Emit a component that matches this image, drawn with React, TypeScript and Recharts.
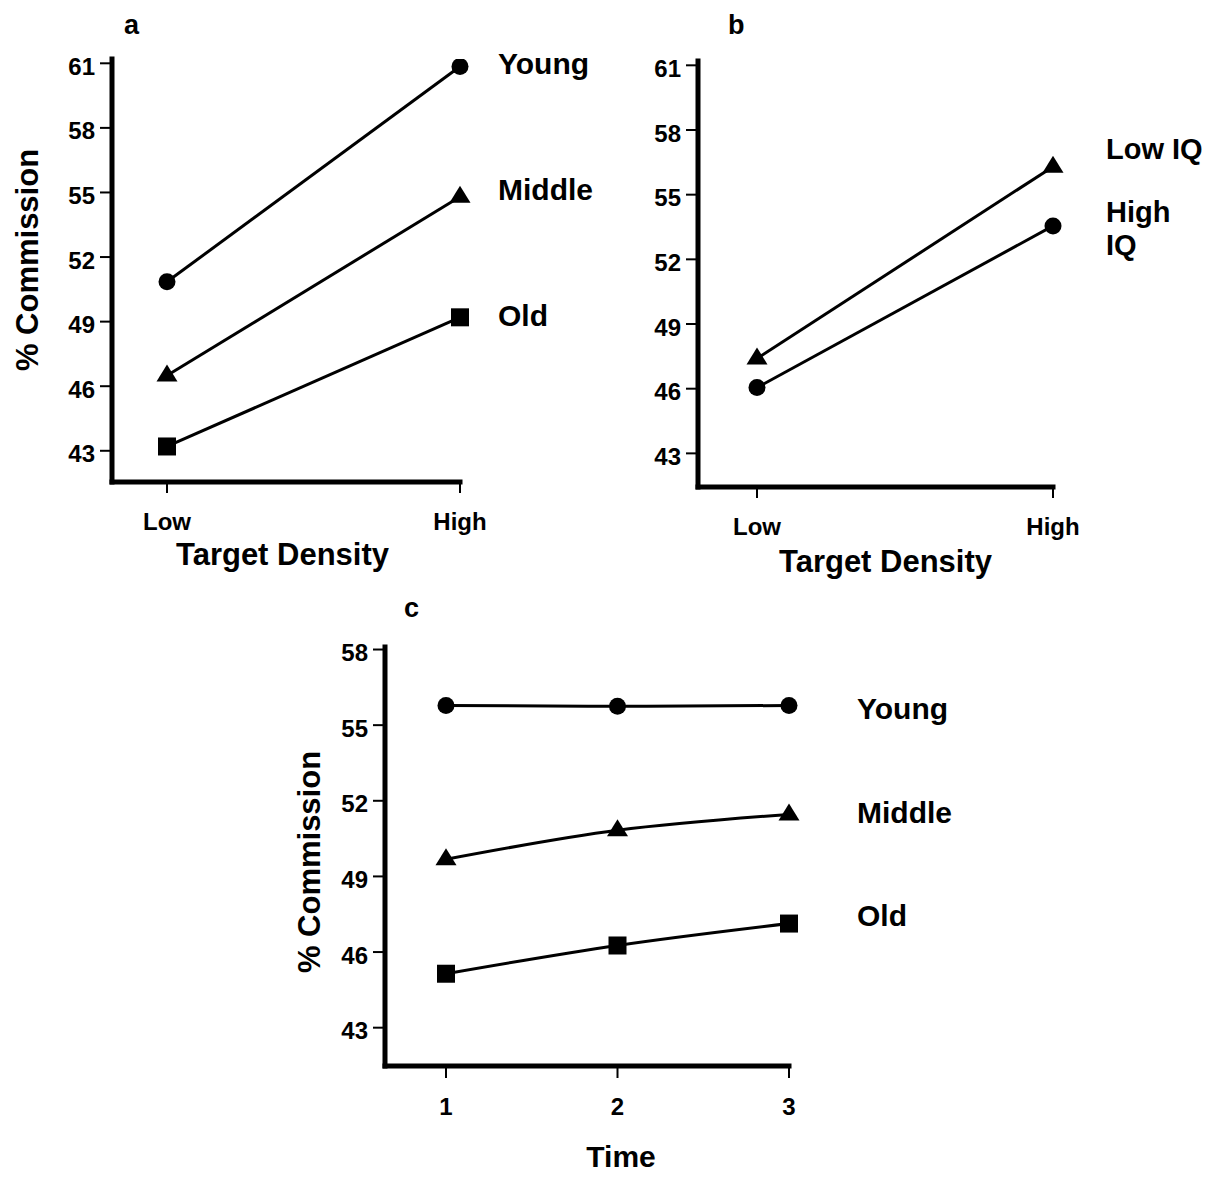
import React from "react"
import { LineChart, Line, XAxis, YAxis } from "recharts"

const FONT = '"Liberation Sans", Arial, Helvetica, sans-serif'

// panel a – age groups by target density
const densityLabels = ["Low", "High"]
const youngA = [50.85, 60.85]
const middleA = [46.5, 54.8]
const oldA = [43.2, 49.2]

// panel b – IQ groups by target density
const lowIQ = [47.4, 56.3]
const highIQ = [46.05, 53.55]

// panel c – age groups over time
const timeLabels = ["1", "2", "3"]
const youngC = [55.78, 55.75, 55.78]
const middleC = [49.68, 50.83, 51.46]
const oldC = [45.14, 46.26, 47.13]

const ticksAB = [43, 46, 49, 52, 55, 58, 61]
const ticksC = [43, 46, 49, 52, 55, 58]

const dataA = densityLabels.map((x, i) => ({ x, young: youngA[i], middle: middleA[i], old: oldA[i] }))
const dataB = densityLabels.map((x, i) => ({ x, lowIQ: lowIQ[i], highIQ: highIQ[i] }))
const dataC = timeLabels.map((x, i) => ({ x, young: youngC[i], middle: middleC[i], old: oldC[i] }))

type Shape = "circle" | "square" | "triangle"

function dot(shape: Shape) {
  // eslint-disable-next-line @typescript-eslint/no-explicit-any
  return (props: any) => {
    const { cx, cy, index } = props
    if (cx == null || cy == null) return <g key={`e-${shape}-${index}`} />
    if (shape === "circle") return <circle key={`c-${index}`} cx={cx} cy={cy} r={8.5} fill="#000" />
    if (shape === "square") return <rect key={`s-${index}`} x={cx - 9} y={cy - 9} width={18} height={18} fill="#000" />
    return (
      <path key={`t-${index}`} d={`M${cx},${cy - 11} L${cx + 10.5},${cy + 6} L${cx - 10.5},${cy + 6} Z`} fill="#000" />
    )
  }
}

const axisLine = { stroke: "#000", strokeWidth: 5, strokeLinecap: "square" as const }
const tickLine = { stroke: "#000", strokeWidth: 2 }
const tickText = { fill: "#000", fontSize: 24, fontWeight: 700, fontFamily: FONT }
const yTickText = { ...tickText, dy: 3 }

function Txt({
  x,
  y,
  size = 30,
  center = false,
  rotate = false,
  children,
}: {
  x: number
  y: number
  size?: number
  center?: boolean
  rotate?: boolean
  children: React.ReactNode
}) {
  const base: React.CSSProperties = {
    position: "absolute",
    fontFamily: FONT,
    fontWeight: 700,
    fontSize: size,
    lineHeight: 1,
    whiteSpace: "nowrap",
    color: "#000",
  }
  if (rotate) {
    return (
      <div style={{ ...base, left: x, top: y, transform: "translate(-50%, -50%) rotate(-90deg)" }}>{children}</div>
    )
  }
  return (
    <div
      style={{
        ...base,
        left: x,
        top: y - 0.49 * size,
        transform: center ? "translateX(-50%)" : undefined,
      }}
    >
      {children}
    </div>
  )
}

export default function App() {
  return (
    <div style={{ position: "absolute", left: 0, top: 0, width: 1222, height: 1182, background: "#fff" }}>
      {/* a */}
      <div style={{ position: "absolute", left: 0, top: 0 }}>
        <LineChart width={620} height={590} data={dataA} margin={{ top: 59, right: 160, bottom: 58, left: 52 }}>
          <XAxis
            dataKey="x"
            padding={{ left: 55, right: 0 }}
            axisLine={axisLine}
            tickLine={tickLine}
            tickSize={11}
            tickMargin={20}
            tick={tickText}
            fontSize={24}
            height={50}
            interval={0}
          />
          <YAxis
            type="number"
            domain={[41.55, 61.2]}
            ticks={ticksAB}
            interval={0}
            allowDataOverflow
            axisLine={axisLine}
            tickLine={tickLine}
            tickSize={12}
            tickMargin={5}
            tick={yTickText}
            fontSize={24}
            width={60}
          />
          <Line dataKey="young" stroke="#000" strokeWidth={3} dot={dot("circle")} isAnimationActive={false} />
          <Line dataKey="middle" stroke="#000" strokeWidth={3} dot={dot("triangle")} isAnimationActive={false} />
          <Line dataKey="old" stroke="#000" strokeWidth={3} dot={dot("square")} isAnimationActive={false} />
        </LineChart>
      </div>

      {/* b */}
      <div style={{ position: "absolute", left: 600, top: 0 }}>
        <LineChart width={622} height={590} data={dataB} margin={{ top: 61, right: 169, bottom: 53, left: 38 }}>
          <XAxis
            dataKey="x"
            padding={{ left: 59, right: 0 }}
            axisLine={axisLine}
            tickLine={tickLine}
            tickSize={11}
            tickMargin={20}
            tick={tickText}
            fontSize={24}
            height={50}
            interval={0}
          />
          <YAxis
            type="number"
            domain={[41.44, 61.2]}
            ticks={ticksAB}
            interval={0}
            allowDataOverflow
            axisLine={axisLine}
            tickLine={tickLine}
            tickSize={12}
            tickMargin={5}
            tick={yTickText}
            fontSize={24}
            width={60}
          />
          <Line dataKey="lowIQ" stroke="#000" strokeWidth={3} dot={dot("triangle")} isAnimationActive={false} />
          <Line dataKey="highIQ" stroke="#000" strokeWidth={3} dot={dot("circle")} isAnimationActive={false} />
        </LineChart>
      </div>

      {/* c */}
      <div style={{ position: "absolute", left: 280, top: 590 }}>
        <LineChart width={700} height={592} data={dataC} margin={{ top: 57, right: 191, bottom: 66, left: 45 }}>
          <XAxis
            dataKey="x"
            padding={{ left: 61, right: 0 }}
            axisLine={axisLine}
            tickLine={tickLine}
            tickSize={12}
            tickMargin={20}
            tick={tickText}
            fontSize={24}
            height={50}
            interval={0}
          />
          <YAxis
            type="number"
            domain={[41.48, 58.1]}
            ticks={ticksC}
            interval={0}
            allowDataOverflow
            axisLine={axisLine}
            tickLine={tickLine}
            tickSize={12}
            tickMargin={5}
            tick={yTickText}
            fontSize={24}
            width={60}
          />
          <Line type="monotone" dataKey="young" stroke="#000" strokeWidth={3} dot={dot("circle")} isAnimationActive={false} />
          <Line type="monotone" dataKey="middle" stroke="#000" strokeWidth={3} dot={dot("triangle")} isAnimationActive={false} />
          <Line type="monotone" dataKey="old" stroke="#000" strokeWidth={3} dot={dot("square")} isAnimationActive={false} />
        </LineChart>
      </div>

      {/* panel letters */}
      <Txt x={124} y={25} size={27}>a</Txt>
      <Txt x={728} y={25} size={27}>b</Txt>
      <Txt x={404} y={608} size={27}>c</Txt>

      {/* axis titles */}
      <Txt x={27} y={260} size={31} rotate>% Commission</Txt>
      <Txt x={309} y={862} size={31} rotate>% Commission</Txt>
      <Txt x={176} y={554} size={31}>Target Density</Txt>
      <Txt x={779} y={561} size={31}>Target Density</Txt>
      <Txt x={621} y={1157} size={30} center>Time</Txt>

      {/* series labels */}
      <Txt x={498} y={64} size={30}>Young</Txt>
      <Txt x={498} y={190} size={30}>Middle</Txt>
      <Txt x={498} y={316} size={30}>Old</Txt>

      <Txt x={1106} y={149} size={29}>Low IQ</Txt>
      <Txt x={1106} y={212} size={29}>High</Txt>
      <Txt x={1106} y={245} size={29}>IQ</Txt>

      <Txt x={857} y={709} size={30}>Young</Txt>
      <Txt x={857} y={813} size={30}>Middle</Txt>
      <Txt x={857} y={916} size={30}>Old</Txt>
    </div>
  )
}
